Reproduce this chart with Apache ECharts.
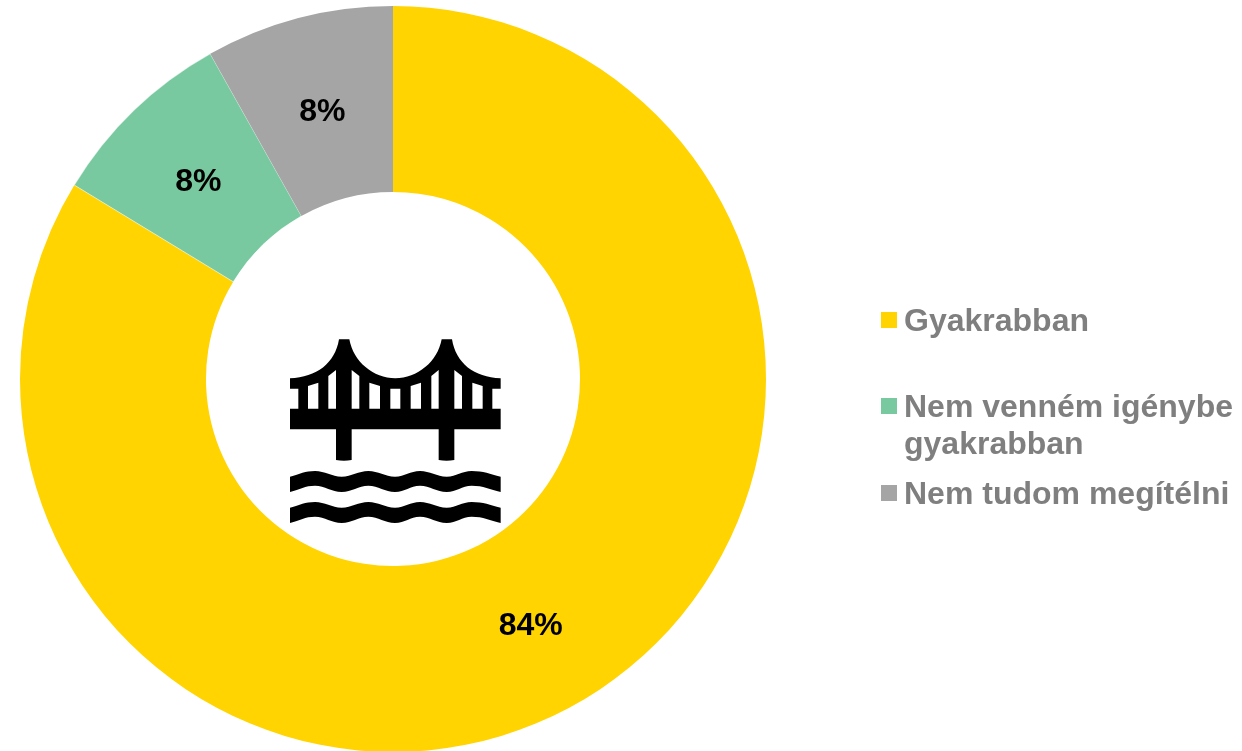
<!DOCTYPE html>
<html>
<head>
<meta charset="utf-8">
<title>Gyakrabban</title>
<style>
  html, body { margin: 0; padding: 0; background: #fff; }
  #main { width: 1242px; height: 751px; }
</style>
<script src="https://cdn.jsdelivr.net/npm/echarts@6/dist/echarts.min.js"></script>
</head>
<body>
<div id="main"></div>
<script>
const categories = ['Gyakrabban', 'Nem venném igénybe\ngyakrabban', 'Nem tudom megítélni']
const shares = [83.7, 8.15, 8.15]
const colors = ['#FFD400', '#78C99F', '#A5A5A5']

const FONT = '"Liberation Sans", Arial, sans-serif'
const GREY_TEXT = '#7F7F7F'
const labelNudge = [[-1, 0], [2, 7], [1, 7]]
const sliceBorder = [0, 0.5, 0]

// hid ikon, a referencia kivágásának koordinátáiban
const deck = 'M60 175C140 172 195 130 207 58L238 58C250 125 310 175 376 175C442 175 503 125 515 58L546 58C558 130 612 172 692 175L692 206L667 206L667 266L692 266L692 328L553 328L553 420Q530 424 506 420L506 328L245 328L245 420Q222 424 198 420L198 328L60 328L60 266L85 266L85 206L60 206Z'
const holes = 'M114 198L145 188L145 266L114 266ZM175 168L198 150L198 266L175 266ZM245 150L268 168L268 266L245 266ZM298 188L330 198L330 266L298 266ZM361 206L391 206L391 266L361 266ZM422 198L453 188L453 266L422 266ZM484 168L506 150L506 266L484 266ZM553 150L576 168L576 266L553 266ZM607 188L638 198L638 266L607 266Z'
const wave = 'M60 470C90 462 105 453 135 453C165 453 185 470 215 470C245 470 265 453 295 453C325 453 345 470 375 470C405 470 420 453 450 453C480 453 500 470 530 470C560 470 575 453 605 453C640 453 660 462 692 470L692 516C660 508 640 497 605 497C575 497 560 516 530 516C500 516 480 497 450 497C420 497 405 516 375 516C345 516 325 497 295 497C265 497 245 516 215 516C185 516 165 497 135 497C105 497 90 508 60 516Z'
const bridgeSvg = '<svg xmlns="http://www.w3.org/2000/svg" width="750" height="660" viewBox="0 0 750 660">' +
  '<path fill-rule="evenodd" d="' + deck + holes + '"/>' +
  '<path d="' + wave + '"/>' +
  '<path transform="translate(0 93)" d="' + wave + '"/>' +
  '</svg>'

function legendAt (name, top) {
  return {
    data: [name],
    orient: 'vertical',
    left: 881,
    top: top,
    padding: 0,
    icon: 'rect',
    itemWidth: 16,
    itemHeight: 16,
    itemGap: 0,
    itemStyle: { borderWidth: 0 },
    selectedMode: false,
    formatter: (n) => '{t|' + n.split('\n')[0] + '}',
    textStyle: {
      rich: {
        t: {
          color: GREY_TEXT,
          fontFamily: FONT,
          fontSize: 32,
          fontWeight: 'bold',
          padding: [4, 0, 0, 2]
        }
      }
    }
  }
}

let myChart = echarts.init(document.getElementById('main'))
myChart.setOption({
  animation: false,
  backgroundColor: '#fff',
  color: colors,
  legend: [
    legendAt(categories[0], 306),
    legendAt(categories[1], 392),
    legendAt(categories[2], 479)
  ],
  series: [{
    type: 'pie',
    center: [393, 379],
    radius: [187, 373],
    startAngle: 90,
    clockwise: true,
    silent: true,
    avoidLabelOverlap: false,
    label: {
      position: 'inside',
      formatter: (p) => Math.round(p.value) + '%',
      color: '#000',
      fontFamily: FONT,
      fontSize: 32,
      fontWeight: 'bold'
    },
    labelLine: { show: false },
    data: categories.map((name, i) => ({
      name: name,
      value: shares[i],
      itemStyle: { borderColor: '#fff', borderWidth: sliceBorder[i] },
      label: { offset: labelNudge[i] }
    }))
  }],
  graphic: [
    {
      type: 'image',
      left: 270,
      top: 320,
      silent: true,
      style: {
        image: 'data:image/svg+xml;charset=utf-8,' + encodeURIComponent(bridgeSvg),
        width: 250,
        height: 220
      }
    },
    {
      // a jelmagyarázat második sora, a négyzet az első sorhoz igazodik
      type: 'text',
      left: 904,
      top: 429,
      silent: true,
      style: {
        text: categories[1].split('\n')[1],
        fill: GREY_TEXT,
        font: 'bold 32px ' + FONT
      }
    }
  ]
})
</script>
</body>
</html>
